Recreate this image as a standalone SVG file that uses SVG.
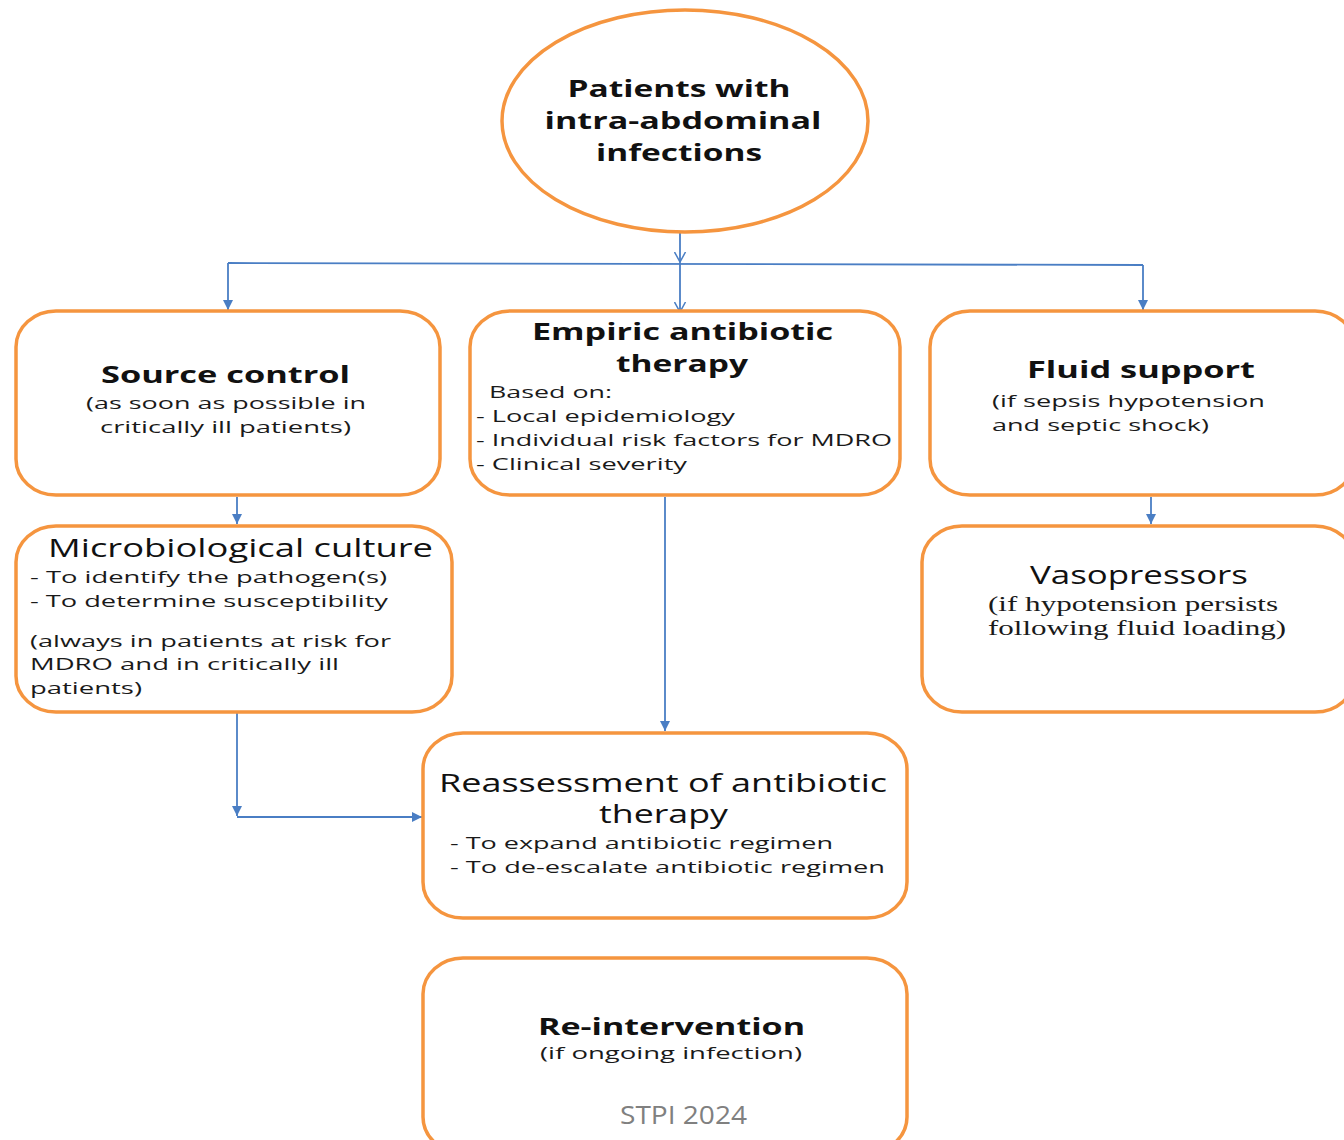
<svg xmlns="http://www.w3.org/2000/svg" width="1344" height="1140" viewBox="0 0 1344 1140">
<style>
.box{fill:#fff;stroke:#F5953F;stroke-width:3.5}
.con{fill:none;stroke:#4A7EC4;stroke-width:1.8}
text{font-family:"Open Sans","Liberation Sans",sans-serif;fill:#111}
.b{font-weight:bold;font-size:24px}
.r{font-size:25px}
.s{font-size:17px;fill:#1a1a1a}
.sf{font-family:"Liberation Serif",serif;font-size:20px;fill:#1a1a1a}
.c{text-anchor:middle}
.ft{font-size:26px;fill:#808080}
</style>
<defs>
<marker id="fa" viewBox="0 0 10 10" refX="10" refY="5" markerWidth="10" markerHeight="11" markerUnits="userSpaceOnUse" orient="auto"><path d="M0,0 L10,5 L0,10 z" fill="#4A7EC4"/></marker>
<marker id="oa" viewBox="0 0 10 12" refX="10" refY="6" markerWidth="10" markerHeight="13" markerUnits="userSpaceOnUse" orient="auto"><path d="M0,0.5 L10,6 L0,11.5" fill="none" stroke="#4A7EC4" stroke-width="1.5"/></marker>
</defs>
<rect width="1344" height="1140" fill="#fff"/>
<g id="connectors">
<path class="con" d="M680,233 V262" marker-end="url(#oa)"/>
<path class="con" d="M228,263 L1143,265"/>
<path class="con" d="M228,263 V310" marker-end="url(#fa)"/>
<path class="con" d="M680,262 V312" marker-end="url(#oa)"/>
<path class="con" d="M1143,265 V310" marker-end="url(#fa)"/>
<path class="con" d="M237,497 V524" marker-end="url(#fa)"/>
<path class="con" d="M1151,497 V524" marker-end="url(#fa)"/>
<path class="con" d="M665,497 V731" marker-end="url(#fa)"/>
<path class="con" d="M237,713 V816" marker-end="url(#fa)"/>
<path class="con" d="M237,817 H422" marker-end="url(#fa)"/>
</g>
<g id="start">
<ellipse class="box" cx="685" cy="121" rx="183" ry="111"/>
<text class="b c" x="679" y="97" textLength="223" lengthAdjust="spacingAndGlyphs">Patients with</text>
<text class="b c" x="683" y="129" textLength="277" lengthAdjust="spacingAndGlyphs">intra-abdominal</text>
<text class="b c" x="679" y="161" textLength="166" lengthAdjust="spacingAndGlyphs">infections</text>
</g>
<g id="source-control">
<rect class="box" x="16" y="311" width="424" height="184" rx="40" ry="36"/>
<text class="b" x="101" y="383" textLength="249" lengthAdjust="spacingAndGlyphs">Source control</text>
<text class="s" x="86" y="409" textLength="280" lengthAdjust="spacingAndGlyphs">(as soon as possible in</text>
<text class="s" x="100" y="433" textLength="251" lengthAdjust="spacingAndGlyphs">critically ill patients)</text>
</g>
<g id="empiric">
<rect class="box" x="470" y="311" width="430" height="184" rx="40" ry="36"/>
<text class="b" x="532" y="340" textLength="301" lengthAdjust="spacingAndGlyphs">Empiric antibiotic</text>
<text class="b" x="616" y="372" textLength="132" lengthAdjust="spacingAndGlyphs">therapy</text>
<text class="s" x="489" y="398" textLength="123" lengthAdjust="spacingAndGlyphs">Based on:</text>
<text class="s" x="476" y="422" textLength="259" lengthAdjust="spacingAndGlyphs">- Local epidemiology</text>
<text class="s" x="476" y="446" textLength="416" lengthAdjust="spacingAndGlyphs">- Individual risk factors for MDRO</text>
<text class="s" x="476" y="470" textLength="211" lengthAdjust="spacingAndGlyphs">- Clinical severity</text>
</g>
<g id="fluid">
<rect class="box" x="930" y="311" width="425" height="184" rx="40" ry="36"/>
<text class="b" x="1027" y="378" textLength="228" lengthAdjust="spacingAndGlyphs">Fluid support</text>
<text class="s" x="992" y="407" textLength="273" lengthAdjust="spacingAndGlyphs">(if sepsis hypotension</text>
<text class="s" x="992" y="431" textLength="217" lengthAdjust="spacingAndGlyphs">and septic shock)</text>
</g>
<g id="micro">
<rect class="box" x="16" y="526" width="436" height="186" rx="40" ry="36"/>
<text class="r" x="48" y="557" textLength="385" lengthAdjust="spacingAndGlyphs">Microbiological culture</text>
<text class="s" x="30" y="583" textLength="357" lengthAdjust="spacingAndGlyphs">- To identify the pathogen(s)</text>
<text class="s" x="30" y="607" textLength="358" lengthAdjust="spacingAndGlyphs">- To determine susceptibility</text>
<text class="s" x="30" y="647" textLength="361" lengthAdjust="spacingAndGlyphs">(always in patients at risk for</text>
<text class="s" x="30" y="670" textLength="309" lengthAdjust="spacingAndGlyphs">MDRO and in critically ill</text>
<text class="s" x="30" y="694" textLength="112" lengthAdjust="spacingAndGlyphs">patients)</text>
</g>
<g id="vaso">
<rect class="box" x="922" y="526" width="433" height="186" rx="40" ry="36"/>
<text class="r" x="1030" y="584" textLength="218" lengthAdjust="spacingAndGlyphs">Vasopressors</text>
<text class="sf" x="988" y="611" textLength="290" lengthAdjust="spacingAndGlyphs">(if hypotension persists</text>
<text class="sf" x="988" y="635" textLength="298" lengthAdjust="spacingAndGlyphs">following fluid loading)</text>
</g>
<g id="reassess">
<rect class="box" x="423" y="733" width="484" height="185" rx="40" ry="36"/>
<text class="r" x="439" y="792" textLength="448" lengthAdjust="spacingAndGlyphs">Reassessment of antibiotic</text>
<text class="r" x="599" y="823" textLength="129" lengthAdjust="spacingAndGlyphs">therapy</text>
<text class="s" x="450" y="849" textLength="383" lengthAdjust="spacingAndGlyphs">- To expand antibiotic regimen</text>
<text class="s" x="450" y="873" textLength="435" lengthAdjust="spacingAndGlyphs">- To de-escalate antibiotic regimen</text>
</g>
<g id="reintervention">
<rect class="box" x="423" y="958" width="484" height="195" rx="40" ry="36"/>
<text class="b" x="538" y="1035" textLength="267" lengthAdjust="spacingAndGlyphs">Re-intervention</text>
<text class="s" x="540" y="1059" textLength="262" lengthAdjust="spacingAndGlyphs">(if ongoing infection)</text>
<text class="ft" x="620" y="1124" textLength="127" lengthAdjust="spacingAndGlyphs">STPI 2024</text>
</g>
</svg>
